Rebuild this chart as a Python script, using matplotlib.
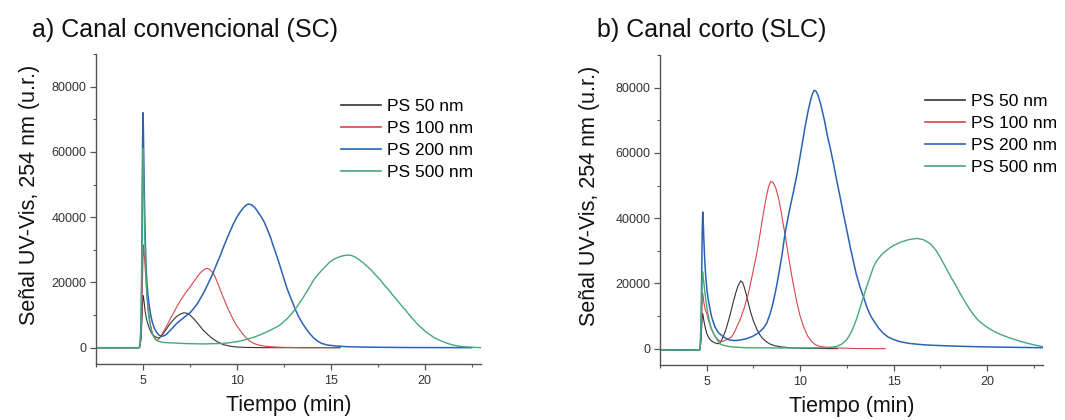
import matplotlib
matplotlib.use("Agg")
import matplotlib.pyplot as plt
from matplotlib.ticker import MultipleLocator

plt.rcParams['font.family'] = ['Liberation Sans', 'DejaVu Sans']

labels = ["PS 50 nm", "PS 100 nm", "PS 200 nm", "PS 500 nm"]
colors = ["#333333", "#d6464b", "#2a63b5", "#47a877"]
widths = [0.8, 0.8, 1.1, 1.0]

# ---------- Panel a) Canal convencional (SC) ----------
a_t50 = [2.5, 4.8, 4.85, 4.9, 4.95, 4.98, 5.0, 5.03, 5.07, 5.12, 5.18, 5.25, 5.35, 5.45, 5.55, 5.7,
         5.85, 5.95, 6.1, 6.25, 6.4, 6.6, 6.8, 7.0, 7.17, 7.35, 7.5, 7.7, 7.88, 8.05, 8.2, 8.4, 8.59,
         8.8, 9.0, 9.3, 9.7, 10.0, 10.5, 11.5, 15.5]
a_s50 = [0, 0, 500, 3000, 9000, 14000, 16000, 15500, 13500, 11000, 9000, 7500, 5800, 4500, 3800,
         3200, 3000, 3300, 4500, 5700, 7000, 8400, 9600, 10300, 10700, 10550, 10000, 8900, 7700,
         6500, 5400, 4300, 3300, 2400, 1700, 900, 400, 200, 80, 0, 0]

a_t100 = [2.5, 4.8, 4.85, 4.9, 4.95, 4.99, 5.03, 5.06, 5.1, 5.15, 5.2, 5.27, 5.35, 5.42, 5.5, 5.58,
          5.65, 5.72, 5.8, 5.9, 6.0, 6.15, 6.3, 6.5, 6.81, 7.0, 7.2, 7.35, 7.52, 7.7, 7.9, 8.05, 8.2,
          8.3, 8.41, 8.55, 8.7, 8.85, 9.0, 9.12, 9.25, 9.4, 9.52, 9.65, 9.8, 9.95, 10.1, 10.3, 10.5,
          10.7, 10.89, 11.1, 11.3, 11.5, 11.78, 12.2, 12.5, 13.5, 15.4]
a_s100 = [0, 0, 800, 4000, 14000, 25000, 31500, 29500, 26000, 21500, 17000, 12500, 9000, 6500,
          4500, 3300, 2600, 2300, 2400, 3000, 4000, 5500, 7000, 9300, 12600, 14500, 16200, 17400,
          18700, 20200, 21800, 22900, 23700, 24100, 24300, 24000, 23100, 21600, 19500, 17700, 15800,
          13700, 12000, 10500, 8700, 7100, 5900, 4300, 3000, 2000, 1350, 900, 650, 450, 300, 150,
          100, 0, 0]

a_t200 = [2.5, 4.8, 4.85, 4.9, 4.93, 4.96, 4.98, 5.0, 5.02, 5.05, 5.08, 5.12, 5.16, 5.21, 5.26,
          5.32, 5.38, 5.43, 5.5, 5.6, 5.74, 5.87, 6.0, 6.1, 6.2, 6.3, 6.45, 6.6, 6.81, 7.0, 7.15, 7.3,
          7.52, 7.7, 7.9, 8.05, 8.23, 8.4, 8.6, 8.76, 8.95, 9.1, 9.3, 9.5, 9.65, 9.83, 10.0, 10.2,
          10.4, 10.55, 10.66, 10.8, 10.95, 11.1, 11.25, 11.43, 11.6, 11.8, 11.95, 12.14, 12.31,
          12.5, 12.67, 12.85, 13.0, 13.11, 13.3, 13.5, 13.7, 13.9, 14.09, 14.3, 14.5, 14.8, 15.2,
          15.87, 17.0, 19.0, 22.5]
a_s200 = [0, 0, 1000, 8000, 22000, 45000, 62000, 72000, 68000, 56000, 45000, 34000, 26000, 20000,
          16500, 13500, 11200, 9500, 7800, 6000, 4600, 3800, 3500, 3600, 3900, 4400, 5300, 6200,
          7500, 8400, 9100, 9800, 10800, 12000, 13500, 15000, 16800, 18800, 21200, 23300, 26000,
          28000, 31000, 33800, 35800, 38100, 40000, 41800, 43200, 43900, 44000, 43700, 43000, 41800,
          40500, 38800, 36600, 33700, 31000, 27900, 24800, 21300, 18200, 15500, 13400, 11750, 9400,
          7400, 5700, 4200, 3000, 2000, 1350, 830, 550, 300, 150, 50, 0]

a_t500 = [2.5, 4.8, 4.85, 4.9, 4.93, 4.96, 4.98, 5.0, 5.02, 5.05, 5.08, 5.12, 5.16, 5.2, 5.27, 5.35,
          5.45, 5.55, 5.67, 5.8, 6.0, 6.2, 6.45, 7.3, 8.23, 9.2, 9.6, 10.0, 10.3, 10.54, 10.8, 11.0,
          11.2, 11.43, 11.65, 11.9, 12.1, 12.31, 12.5, 12.7, 12.9, 13.11, 13.35, 13.6, 13.85, 14.09,
          14.3, 14.5, 14.75, 14.98, 15.2, 15.4, 15.6, 15.87, 16.1, 16.3, 16.5, 16.75, 17.0, 17.2,
          17.4, 17.64, 17.85, 18.1, 18.3, 18.53, 18.75, 19.0, 19.2, 19.42, 19.6, 19.85, 20.05, 20.3,
          20.5, 20.75, 21.0, 21.2, 21.4, 21.6, 21.85, 22.08, 22.5, 22.97]
a_s500 = [0, 0, 1000, 6000, 18000, 40000, 54000, 61000, 58000, 48000, 38000, 30000, 23000, 17000,
          11500, 8000, 5300, 3600, 2600, 2000, 1700, 1550, 1500, 1250, 1150, 1300, 1500, 1850, 2200,
          2600, 3000, 3400, 3850, 4400, 5000, 5700, 6300, 7000, 8000, 9000, 10300, 11750, 13800,
          16000, 18400, 20750, 22300, 23600, 25100, 26400, 27200, 27700, 28100, 28400, 28250, 27800,
          27000, 25900, 24600, 23500, 22200, 20750, 19200, 17600, 16100, 14600, 13000, 11400, 9900,
          8500, 7300, 6000, 4900, 3900, 3100, 2400, 1800, 1350, 1000, 700, 450, 300, 150, 0]

# ---------- Panel b) Canal corto (SLC) ----------
b_t50 = [2.5, 4.6, 4.65, 4.7, 4.73, 4.76, 4.78, 4.81, 4.85, 4.9, 5.0, 5.08, 5.15, 5.25, 5.36, 5.5,
         5.63, 5.72, 5.8, 5.9, 6.0, 6.07, 6.2, 6.3, 6.43, 6.55, 6.68, 6.82, 6.92, 7.0, 7.1, 7.23, 7.35,
         7.5, 7.68, 7.85, 8.0, 8.2, 8.4, 8.65, 8.93, 9.5, 10.5, 12.0]
b_s50 = [-300, -500, 0, 3000, 6500, 10000, 10800, 10000, 8500, 7000, 4700, 3700, 3000, 2400, 2000,
         1650, 1500, 1900, 2650, 3900, 5400, 6700, 9300, 11500, 14500, 17000, 19300, 20800, 20300,
         19000, 17000, 14000, 11200, 8500, 6000, 4200, 3100, 2100, 1400, 900, 600, 250, 80, 0]

b_t100 = [2.5, 4.6, 4.65, 4.7, 4.73, 4.76, 4.78, 4.81, 4.85, 4.92, 5.0, 5.1, 5.2, 5.27, 5.4, 5.54,
          5.65, 5.75, 5.85, 6.0, 6.15, 6.34, 6.5, 6.61, 6.78, 7.0, 7.23, 7.45, 7.68, 7.85, 8.03, 8.2,
          8.32, 8.43, 8.55, 8.7, 8.85, 9.0, 9.2, 9.4, 9.6, 9.8, 10.0, 10.2, 10.4, 10.6, 10.8, 11.0,
          11.25, 12.0, 13.0, 14.55]
b_s100 = [-300, -500, 0, 4000, 9500, 15000, 17100, 16000, 14000, 12000, 10800, 8600, 6800, 5700,
          4200, 3200, 2500, 2150, 2200, 2600, 3000, 3700, 5200, 6700, 8800, 12300, 16900, 22800,
          29200, 35000, 41400, 46800, 49800, 51300, 51000, 49200, 46000, 41400, 34700, 27500, 20800,
          14900, 10000, 6500, 3900, 2300, 1300, 800, 500, 200, 50, 0]

b_t200 = [2.5, 4.6, 4.65, 4.7, 4.73, 4.76, 4.79, 4.82, 4.85, 4.9, 4.95, 5.02, 5.09, 5.17, 5.25, 5.35,
          5.44, 5.55, 5.65, 5.77, 5.89, 6.05, 6.2, 6.35, 6.5, 6.65, 6.78, 7.0, 7.2, 7.5, 7.7, 7.86,
          8.05, 8.21, 8.4, 8.55, 8.66, 8.8, 8.95, 9.05, 9.19, 9.3, 9.45, 9.64, 9.85, 10.09, 10.25,
          10.45, 10.6, 10.68, 10.76, 10.85, 10.95, 11.1, 11.3, 11.45, 11.6, 11.8, 11.95, 12.14, 12.3,
          12.5, 12.68, 12.85, 13.0, 13.2, 13.39, 13.6, 13.8, 14.0, 14.2, 14.46, 14.7, 15.0, 15.35,
          15.8, 16.3, 16.78, 17.5, 18.5, 19.46, 21.0, 23.0]
b_s200 = [-300, -500, 0, 8000, 22000, 36000, 41900, 38000, 33000, 26500, 22000, 17500, 14900, 12300,
          10000, 8200, 6700, 5600, 4800, 4200, 3700, 3100, 2700, 2550, 2500, 2550, 2650, 2900, 3200,
          3900, 4600, 5300, 6400, 7800, 10800, 14000, 16900, 21000, 26000, 29500, 35300, 38600,
          43000, 48000, 54000, 62000, 67500, 73500, 77000, 78400, 79200, 78900, 77800, 75000, 70000,
          65500, 61800, 56300, 51800, 46500, 41800, 36300, 31200, 26800, 23000, 19000, 15900, 12300,
          9800, 8000, 6300, 4700, 3600, 2800, 2150, 1650, 1350, 1130, 950, 750, 600, 450, 300]

b_t500 = [2.5, 4.6, 4.65, 4.7, 4.73, 4.76, 4.78, 4.81, 4.84, 4.91, 5.0, 5.09, 5.2, 5.36, 5.55, 5.71,
          5.85, 6.0, 6.25, 7.0, 9.0, 11.0, 11.5, 11.8, 12.0, 12.25, 12.5, 12.7, 12.86, 13.0, 13.1,
          13.25, 13.39, 13.55, 13.7, 13.93, 14.1, 14.3, 14.45, 14.64, 14.8, 15.0, 15.35, 15.8, 16.25,
          16.6, 16.96, 17.15, 17.3, 17.5, 17.67, 17.85, 18.0, 18.2, 18.39, 18.55, 18.75, 18.9, 19.1,
          19.3, 19.5, 19.75, 20.0, 20.25, 20.5, 20.8, 21.07, 21.35, 21.6, 21.85, 22.14, 22.5, 23.0]
b_s500 = [-300, -500, 0, 6000, 15000, 21500, 23600, 22000, 20500, 16900, 13000, 9800, 7000, 4700,
          2800, 1500, 1100, 900, 600, 300, 200, 250, 350, 550, 800, 1500, 2800, 4700, 6700, 8800,
          10500, 13300, 15900, 18800, 21300, 25100, 26900, 28400, 29300, 30200, 30900, 31600, 32600,
          33400, 33800, 33400, 32200, 31000, 29900, 28000, 26200, 24300, 22700, 20700, 18800, 17100,
          15100, 13700, 11900, 10300, 8900, 7650, 6600, 5700, 4950, 4200, 3600, 3050, 2600, 2150,
          1700, 1200, 600]

panels = [
    dict(title="a) Canal convencional (SC)", title_x=32,
         rect=[96 / 1065, 56 / 420, 385 / 1065, 310 / 420],
         series=[(a_t50, a_s50), (a_t100, a_s100), (a_t200, a_s200), (a_t500, a_s500)],
         leg=(341 / 1065, 1 - 99 / 420), ylab_x=-0.145),
    dict(title="b) Canal corto (SLC)", title_x=597,
         rect=[660 / 1065, 55 / 420, 383 / 1065, 310 / 420],
         series=[(b_t50, b_s50), (b_t100, b_s100), (b_t200, b_s200), (b_t500, b_s500)],
         leg=(925 / 1065, 1 - 94 / 420), ylab_x=-0.157),
]

fig = plt.figure(figsize=(10.65, 4.2), dpi=100)

for p in panels:
    ax = fig.add_axes(p["rect"])
    for (t, s), lab, c, lw in zip(p["series"], labels, colors, widths):
        ax.plot(t, s, color=c, lw=lw, label=lab)
    ax.set_xlim(2.5, 23)
    ax.set_ylim(-5000, 90000)
    ax.xaxis.set_major_locator(MultipleLocator(5))
    ax.xaxis.set_minor_locator(MultipleLocator(2.5))
    ax.yaxis.set_major_locator(MultipleLocator(20000))
    ax.yaxis.set_minor_locator(MultipleLocator(10000))
    ax.set_yticks([0, 20000, 40000, 60000, 80000])
    for side in ("top", "right"):
        ax.spines[side].set_visible(False)
    for side in ("left", "bottom"):
        ax.spines[side].set_color("#555555")
        ax.spines[side].set_linewidth(1.0)
    ax.tick_params(which="major", direction="out", length=4, width=0.9, color="#555555",
                   labelsize=9, labelcolor="#333333", pad=3)
    ax.tick_params(axis="x", which="major", pad=4)
    ax.tick_params(which="minor", direction="out", length=2.5, width=0.8, color="#555555")
    ax.set_xlabel("Tiempo (min)", fontsize=15.5, color="#111111", labelpad=6)
    ax.set_ylabel("Señal UV-Vis, 254 nm (u.r.)", fontsize=15.5, color="#111111")
    ax.yaxis.set_label_coords(p["ylab_x"], 0.545)
    fig.text(p["title_x"] / 1065, 1 - 30 / 420, p["title"], fontsize=18, ha="left", va="center",
             color="#111111")
    leg = ax.legend(loc="upper left", bbox_to_anchor=p["leg"], bbox_transform=fig.transFigure,
                    frameon=False, fontsize=12.5, borderpad=0, borderaxespad=0, handlelength=2.3,
                    handletextpad=0.35, labelspacing=0.4)
    for h in leg.get_lines():
        h.set_linewidth(1.2)

fig.savefig("out.png", dpi=100)
